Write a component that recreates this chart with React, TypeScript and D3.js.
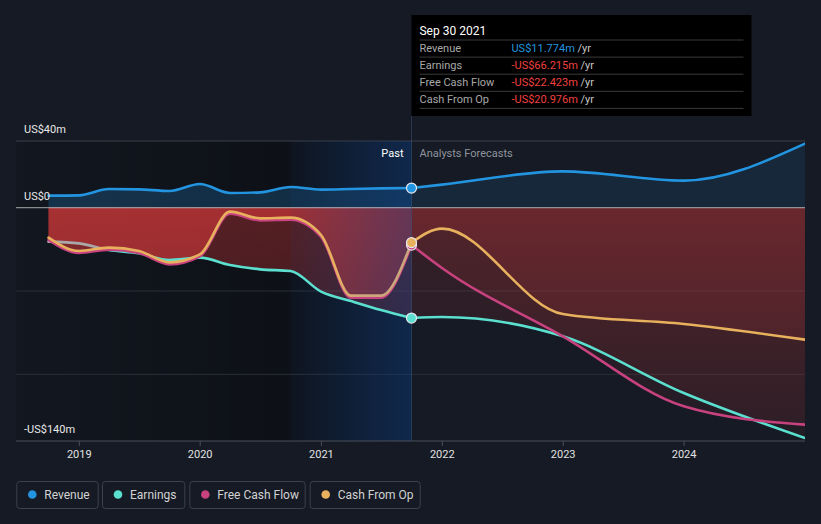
import React from 'react';
import * as d3 from 'd3';

const W = 821;
const H = 524;

// ---- data ----
const pastDates = [
  '2018-09-30', '2018-12-31', '2019-03-31', '2019-06-30', '2019-09-30',
  '2019-12-31', '2020-03-31', '2020-06-30', '2020-09-30', '2020-12-31',
  '2021-03-31', '2021-06-30', '2021-09-30',
];
const forecastDates = ['2021-09-30', '2021-12-31', '2022-12-31', '2023-12-31', '2024-12-31'];

const revenuePast = [7.2, 7.4, 11.2, 11.0, 10.0, 14.2, 8.8, 9.2, 12.4, 10.8, 11.2, 11.6, 11.774];
const earningsPast = [-20.4, -21.4, -25.4, -27.4, -31.4, -30.0, -34.4, -37.0, -38.0, -50.4, -56.0, -61.4, -66.215];
const fcfPast = [-19.4, -27.2, -25.2, -27.2, -34.0, -29.2, -3.6, -7.6, -7.2, -17.6, -54.0, -54.0, -22.423];
const cfoPast = [-18.0, -26.0, -24.0, -26.0, -32.8, -28.0, -2.4, -6.4, -6.0, -16.4, -52.8, -52.8, -20.976];

const revenueForecast = [11.774, 13.8, 21.8, 16.2, 38.4];
const earningsForecast = [-66.215, -65.6, -77.2, -111.2, -138.2];
const fcfForecast = [-22.423, -36.2, -77.2, -119.2, -130.2];
const cfoForecast = [-20.976, -12.6, -63.8, -69.8, -79.2];

const yearTicks = [2019, 2020, 2021, 2022, 2023, 2024];
const gridValues = [40, -50, -100];
const yLabels = [
  { v: 40, text: 'US$40m' },
  { v: 0, text: 'US$0' },
  { v: -140, text: '-US$140m' },
];

const tooltipDate = 'Sep 30 2021';
const tooltipRows = [
  { label: 'Revenue', value: 'US$11.774m', neg: false },
  { label: 'Earnings', value: '-US$66.215m', neg: true },
  { label: 'Free Cash Flow', value: '-US$22.423m', neg: true },
  { label: 'Cash From Op', value: '-US$20.976m', neg: true },
];

const seriesNames = ['Revenue', 'Earnings', 'Free Cash Flow', 'Cash From Op'];
const colors = ['#2394df', '#5be0cf', '#c7427f', '#e8b15e'];

// ---- layout ----
const parse = d3.timeParse('%Y-%m-%d');
const FONT = "Roboto, 'Open Sans', Arial, sans-serif";
const BG = '#151a24';
const plotLeft = 16;

const x = d3.scaleTime()
  .domain([parse('2019-01-01') as Date, parse('2025-01-01') as Date])
  .range([79.3, 805.3]);
const y = d3.scaleLinear().domain([-140, 40]).range([441, 141]);

const pastX = pastDates.map((d) => x(parse(d) as Date));
const fcX = forecastDates.map((d) => x(parse(d) as Date));
const plotRight = fcX[fcX.length - 1];
const nowX = pastX[pastX.length - 1];
const darkEnd = x(parse('2020-09-30') as Date);

type P = [number, number];
const pts = (xs: number[], vs: number[]): P[] => vs.map((v, i) => [xs[i], y(v)] as P);

const line = d3.line<P>().x((d) => d[0]).y((d) => d[1]).curve(d3.curveMonotoneX);
const area = d3.area<P>().x((d) => d[0]).y0(y(0)).y1((d) => d[1]).curve(d3.curveMonotoneX);

const pastSeries = [revenuePast, earningsPast, fcfPast, cfoPast];
const fcSeries = [revenueForecast, earningsForecast, fcfForecast, cfoForecast];

export default function App() {
  const y0 = y(0);
  const grayEnd = pastX[1] + 26;
  const offs = (px: number) => (px - pastX[0]) / (nowX - pastX[0]);

  return (
    <svg width={W} height={H} style={{ position: 'absolute', left: 0, top: 0, background: BG }} fontFamily={FONT}>
      <defs>
        <linearGradient id="darkReg" x1="0" x2="1" y1="0" y2="0">
          <stop offset="0" stopColor="#000" stopOpacity="0.12" />
          <stop offset="1" stopColor="#000" stopOpacity="0.38" />
        </linearGradient>
        <linearGradient id="hiDark" x1="0" x2="1" y1="0" y2="0">
          <stop offset="0" stopColor="#000" stopOpacity="0.32" />
          <stop offset="1" stopColor="#000" stopOpacity="0.08" />
        </linearGradient>
        <linearGradient id="hiReg" x1="0" x2="1" y1="0" y2="0">
          <stop offset="0" stopColor="#0a3e86" stopOpacity="0.06" />
          <stop offset="1" stopColor="#0a3e86" stopOpacity="0.42" />
        </linearGradient>
        <linearGradient id="redPast" gradientUnits="userSpaceOnUse" x1="0" x2="0" y1={y0} y2={y(-140)}>
          <stop offset="0" stopColor="#e23b3b" stopOpacity="0.34" />
          <stop offset="1" stopColor="#e23b3b" stopOpacity="0.18" />
        </linearGradient>
        <linearGradient id="redFc" gradientUnits="userSpaceOnUse" x1="0" x2="0" y1={y0} y2={y(-140)}>
          <stop offset="0" stopColor="#e23b3b" stopOpacity="0.16" />
          <stop offset="1" stopColor="#e23b3b" stopOpacity="0.06" />
        </linearGradient>
        <linearGradient id="earnStroke" gradientUnits="userSpaceOnUse" x1={pastX[0]} x2={nowX} y1="0" y2="0">
          <stop offset="0" stopColor="#a9a9a9" />
          <stop offset={offs(grayEnd - 6)} stopColor="#a9a9a9" />
          <stop offset={offs(grayEnd + 4)} stopColor={colors[1]} />
          <stop offset="1" stopColor={colors[1]} />
        </linearGradient>
        <linearGradient id="cfoStroke" gradientUnits="userSpaceOnUse" x1={pastX[0]} x2={nowX} y1="0" y2="0">
          <stop offset="0" stopColor={colors[3]} />
          <stop offset={offs(pastX[9] + 12)} stopColor={colors[3]} />
          <stop offset={offs(pastX[10] + 8)} stopColor="#cda67a" />
          <stop offset="1" stopColor="#c9a67e" />
        </linearGradient>
        <clipPath id="plotClip">
          <rect x={plotLeft} y={y(40)} width={plotRight - plotLeft} height={y(-140) - y(40)} />
        </clipPath>
      </defs>

      {/* background regions */}
      <rect x={plotLeft} y={y(40)} width={darkEnd - plotLeft} height={y(-140) - y(40)} fill="url(#darkReg)" />
      <rect x={darkEnd} y={y(40)} width={nowX - darkEnd} height={y(-140) - y(40)} fill="url(#hiDark)" />

      {/* grid */}
      {gridValues.map((v) => (
        <line key={v} x1={plotLeft} x2={plotRight} y1={y(v)} y2={y(v)}
          stroke={v === 40 ? '#3a3f48' : '#2a2f38'} strokeWidth={1} />
      ))}

      {/* fills */}
      <g clipPath="url(#plotClip)">
        <path d={area(pts(pastX, revenuePast)) || ''} fill={colors[0]} fillOpacity={0.23} />
        <path d={area(pts(fcX, revenueForecast)) || ''} fill={colors[0]} fillOpacity={0.12} />
        {[1, 2, 3].map((i) => (
          <path key={'pa' + i} d={area(pts(pastX, pastSeries[i])) || ''} fill="url(#redPast)" />
        ))}
        {[1, 2, 3].map((i) => (
          <path key={'fa' + i} d={area(pts(fcX, fcSeries[i])) || ''} fill="url(#redFc)" />
        ))}
      </g>

      {/* past highlight */}
      <rect x={darkEnd} y={y(40)} width={nowX - darkEnd} height={y(-140) - y(40)} fill="url(#hiReg)" />

      {/* zero line */}
      <line x1={plotLeft} x2={plotRight} y1={y0} y2={y0} stroke="#d8d8d8" strokeOpacity={0.6} strokeWidth={1.2} />

      {/* x axis */}
      <line x1={plotLeft} x2={plotRight} y1={y(-140)} y2={y(-140)} stroke="#4a4f58" strokeWidth={1} />
      {yearTicks.map((yr) => {
        const px = x(new Date(yr, 0, 1));
        return (
          <g key={yr}>
            <line x1={px} x2={px} y1={y(-140)} y2={y(-140) + 5} stroke="#4a4f58" />
            <text x={px} y={458} fontSize={11} fill="#e2e2e2" textAnchor="middle">{yr}</text>
          </g>
        );
      })}

      {/* now line */}
      <line x1={nowX} x2={nowX} y1={116} y2={y(-140)} stroke="#3a5070" strokeOpacity={0.6} strokeWidth={1} />

      {/* lines */}
      <g clipPath="url(#plotClip)" fill="none" strokeWidth={2.6} strokeLinecap="round">
        <path d={line(pts(pastX, revenuePast)) || ''} stroke={colors[0]} />
        <path d={line(pts(fcX, revenueForecast)) || ''} stroke={colors[0]} />
        <path d={line(pts(pastX, earningsPast)) || ''} stroke="url(#earnStroke)" />
        <path d={line(pts(fcX, earningsForecast)) || ''} stroke={colors[1]} />
        <path d={line(pts(pastX, fcfPast)) || ''} stroke={colors[2]} />
        <path d={line(pts(fcX, fcfForecast)) || ''} stroke={colors[2]} />
        <path d={line(pts(pastX, cfoPast)) || ''} stroke="url(#cfoStroke)" />
        <path d={line(pts(fcX, cfoForecast)) || ''} stroke={colors[3]} />
      </g>

      {/* markers */}
      {[0, 1, 2, 3].map((i) => (
        <circle key={'m' + i} cx={nowX} cy={y(pastSeries[i][pastSeries[i].length - 1])} r={5}
          fill={colors[i]} stroke="#e8e8f0" strokeWidth={1.2} />
      ))}

      {/* y labels */}
      {yLabels.map((l) => (
        <text key={l.text} x={24} y={y(l.v) - 8} fontSize={11} fill="#e8e8e8">{l.text}</text>
      ))}

      {/* past / forecast labels */}
      <text x={nowX - 8} y={157} fontSize={11} fill="#ffffff" textAnchor="end">Past</text>
      <text x={nowX + 8} y={157} fontSize={11} fill="#8f949c">Analysts Forecasts</text>

      {/* tooltip */}
      <g>
        <rect x={nowX} y={15} width={340} height={101} fill="#000" />
        <text x={nowX + 8} y={35} fontSize={12} fill="#ffffff">{tooltipDate}</text>
        {[0, 1, 2, 3, 4].map((i) => (
          <line key={'tl' + i} x1={nowX + 8} x2={nowX + 332} y1={40 + i * 17.1} y2={40 + i * 17.1}
            stroke="#3a3a3a" strokeWidth={1} />
        ))}
        {tooltipRows.map((r, i) => (
          <g key={r.label}>
            <text x={nowX + 8} y={52 + i * 17} fontSize={11} fill="#a8a8a8">{r.label}</text>
            <text x={nowX + 100} y={52 + i * 17} fontSize={11}>
              <tspan fill={r.neg ? '#f0403f' : colors[0]}>{r.value}</tspan>
              <tspan fill="#c8c8c8"> /yr</tspan>
            </text>
          </g>
        ))}
      </g>

      {/* legend */}
      {(() => {
        const boxes = [
          { x: 16.3, w: 81.4 },
          { x: 102, w: 82.3 },
          { x: 189.3, w: 115.4 },
          { x: 309.7, w: 110 },
        ];
        return boxes.map((b, i) => (
          <g key={'lg' + i}>
            <rect x={b.x + 0.5} y={481.5} width={b.w} height={27} rx={3} fill="none" stroke="#3c414a" strokeWidth={1} />
            <circle cx={b.x + 16} cy={494.5} r={4.3} fill={colors[i]} />
            <text x={b.x + 28} y={498.8} fontSize={12} fill="#d2d2d2">{seriesNames[i]}</text>
          </g>
        ));
      })()}
    </svg>
  );
}
